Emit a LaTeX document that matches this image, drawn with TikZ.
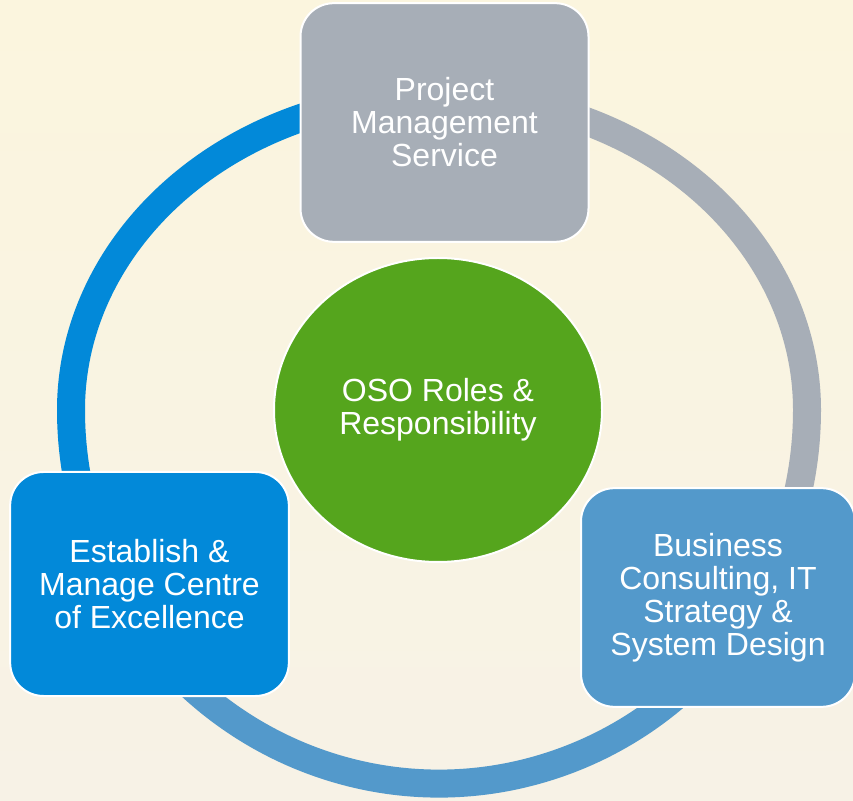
\documentclass[tikz,border=0pt]{standalone}
\usepackage{fontspec}
\setmainfont{Liberation Sans}
\usetikzlibrary{shapes.geometric}
\definecolor{bgtop}{RGB}{251,245,222}
\definecolor{bgbot}{RGB}{247,242,230}
\definecolor{coeblue}{RGB}{2,137,217}
\definecolor{bcitblue}{RGB}{83,153,203}
\definecolor{pmsgrey}{RGB}{167,174,183}
\definecolor{osogreen}{RGB}{85,165,29}
\tikzset{
  rolebox/.style={rectangle, rounded corners=25pt, draw=white, line width=1.5pt,
    inner sep=0pt, text=white, align=center,
    font=\fontsize{24}{24.75}\selectfont},
  ringline/.style={line width=21pt},
}

\begin{document}
\begin{tikzpicture}[x=0.75pt, y=0.75pt]
    \fill[top color=bgtop, bottom color=bgbot] (0,0) rectangle (853,800);
    \useasboundingbox (0,0) rectangle (853,800);

    \coordinate (ctr) at (439,390);

    \draw[ringline, coeblue] ([shift={(110:368 and 315)}]ctr)
        arc[start angle=110, end angle=180, x radius=368, y radius=315]
        arc[start angle=180, end angle=195, x radius=368, y radius=373.5];
    \draw[ringline, pmsgrey] ([shift={(70:368 and 315)}]ctr)
        arc[start angle=70, end angle=0, x radius=368, y radius=315]
        arc[start angle=0, end angle=-20, x radius=368, y radius=373.5];
    \draw[ringline, bcitblue] ([shift={(200:368 and 373.5)}]ctr)
        arc[start angle=200, end angle=330, x radius=368, y radius=373.5];

    \node[rolebox, fill=pmsgrey, minimum width=216pt, minimum height=179pt]
        at (444.5,677.5) (pms) {Project\\Management\\Service};
    \node[rolebox, fill=coeblue, minimum width=209pt, minimum height=168pt]
        at (149.5,216) (coe) {Establish \&\\Manage Centre\\of Excellence};
    \node[rolebox, fill=bcitblue, minimum width=205.5pt, minimum height=164pt]
        at (718,202.5) (bcit) {Business\\Consulting, IT\\Strategy \&\\System Design};
    \node[rolebox, ellipse, rounded corners=0pt, fill=osogreen,
        minimum width=246pt, minimum height=228pt]
        at (438,390) (oso) {OSO Roles \&\\Responsibility};
\end{tikzpicture}
\end{document}
